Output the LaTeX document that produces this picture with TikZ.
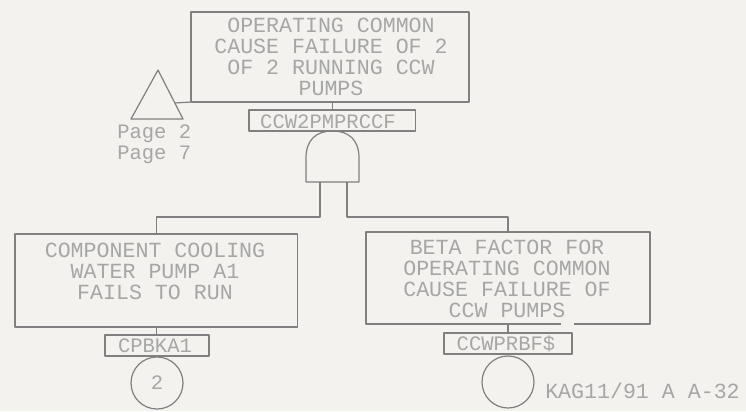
\documentclass[tikz,border=0pt]{standalone}
\usepackage{fontspec}
\setmonofont{Liberation Mono}
\definecolor{paper}{HTML}{F3F2EF}
\definecolor{ink}{HTML}{808080}
\definecolor{txt}{HTML}{A6A6A6}
\tikzset{
  x=0.75pt,y=-0.75pt,
  ln/.style={draw=ink,line width=0.9pt,line join=round},
  boxn/.style={ln,rectangle,inner sep=0pt,outer sep=0pt,anchor=north west},
  lab/.style={text=txt,font=\ttfamily\fontsize{16.2}{15.75}\selectfont,align=center,inner sep=0pt},
  small/.style={text=txt,font=\ttfamily\fontsize{15.4}{15}\selectfont,align=center,inner sep=0pt},
}
\begin{document}
\begin{tikzpicture}
\useasboundingbox[fill=paper] (0,0) rectangle (746,411);
% boxes
\node[boxn,minimum width=208.5pt,minimum height=67.5pt] (top) at (191,12) {};
\node[boxn,minimum width=125pt,minimum height=15.75pt] (topid) at (249,110) {};
\node[boxn,minimum width=212pt,minimum height=69.75pt] (left) at (15,234) {};
\node[boxn,minimum width=78pt,minimum height=15.75pt] (leftid) at (105,335) {};
\node[boxn,minimum width=213pt,minimum height=69pt] (right) at (366,232) {};
\node[boxn,minimum width=96pt,minimum height=15.75pt] (rightid) at (444,333) {};
% texts
\node[lab] (toptxt) at (331,56.5) {OPERATING COMMON\\CAUSE FAILURE OF 2\\OF 2 RUNNING CCW\\PUMPS};
\node[lab] (lefttxt) at (155,271) {COMPONENT COOLING\\WATER PUMP A1\\FAILS TO RUN};
\node[lab] (righttxt) at (507,278.5) {BETA FACTOR FOR\\OPERATING COMMON\\CAUSE FAILURE OF\\CCW PUMPS};
\node[small] (topidt) at (328,121.5) {CCW2PMPRCCF};
\node[small] (leftidt) at (155,346) {CPBKA1};
\node[small] (rightidt) at (506,344) {CCWPRBF\$};
\node[small,anchor=west] (p2) at (117,134) {Page 2};
\node[small,anchor=west] (p7) at (117,155) {Page 7};
\node[lab,anchor=west] (kag) at (545,391) {KAG11/91 A A-32};
% gap in the right box's lower edge
\coordinate (gapa) at (561,324.5);
\coordinate (gapb) at (574,324.5);
\draw[draw=paper,line width=2pt] (gapa) -- (gapb);
% transfer triangle
\coordinate (triA) at (158,70);
\coordinate (triL) at (131,119);
\coordinate (triR) at (183,119);
\coordinate (triC) at (175,103);
\draw[ln] (triA) -- (triL) -- (triR) -- cycle;
\draw[ln] (triC) -- (top.south west);
% gate
\coordinate (gL) at (320,182);
\coordinate (gR) at (347,182);
\draw[ln] (306,182) -- (306,158) .. controls (306,140) and (316,131) .. (332.5,131)
  .. controls (349,131) and (359,140) .. (359,158) -- (359,182) -- cycle;
% connectors
\draw[ln] (top.south -| topid.north) -- (topid.north);
\draw[ln] (gL) -- ++(0,35) -| (left.north);
\draw[ln] (gR) -- ++(0,35) -| (right.north);
\draw[ln] (left.south) -- (left.south |- leftid.north);
\draw[ln] (right.south -| rightid.north) -- (rightid.north);
% events
\node[ln,circle,minimum size=39pt,inner sep=0pt,outer sep=0pt] (ev2) at (157,383) {};
\node[ln,circle,minimum size=39pt,inner sep=0pt,outer sep=0pt] (ev0) at (508,382) {};
\node[small] (evt) at (157,383) {2};
\end{tikzpicture}
\end{document}
